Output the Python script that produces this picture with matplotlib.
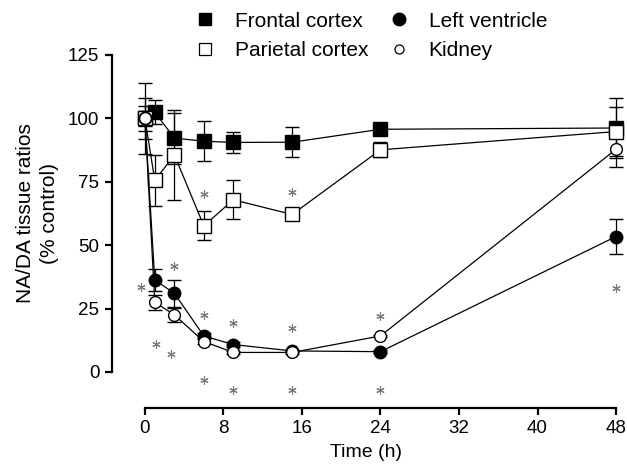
import matplotlib
matplotlib.use("Agg")
import matplotlib.pyplot as plt
from matplotlib.lines import Line2D

plt.rcParams['font.family'] = ['Liberation Sans', 'DejaVu Sans']
plt.rcParams['font.size'] = 14

# sampling times (h)
time_h = [0, 1, 3, 6, 9, 15, 24, 48]

# NA/DA ratios, % of control, mean and SEM
frontal = [100, 102.4, 92.2, 91.0, 90.5, 90.6, 95.7, 96.2]
frontal_err = [8, 4.8, 10, 8, 4.3, 6, 2, 12]
parietal = [100, 75.5, 85.6, 57.6, 67.9, 62.1, 87.6, 94.8]
parietal_err = [14, 10, 17.8, 5.7, 7.7, 1.5, 3, 9.5]
ventricle = [100, 36.3, 31.0, 14.2, 10.8, 8.3, 8.0, 53.4]
ventricle_err = [5, 4.3, 5.3, 1, 1, 0.5, 0.5, 7]
kidney = [100, 27.5, 22.5, 12.0, 7.7, 7.7, 14.2, 87.8]
kidney_err = [3, 3, 2.7, 1, 0.5, 0.5, 0.5, 6.8]

# significance stars (time, y)
stars_t = [6, 15, -0.4, 3, 6, 9, 15, 24, 48, 1.1, 2.7, 6, 9, 15, 24]
stars_y = [70, 71.1, 33.6, 41.8, 22.5, 19.2, 17.2, 22, 33, 11, 7, -3.2, -7.1, -7.1, -7.1]

fig = plt.figure(figsize=(6.27, 4.71), dpi=100)
ax = fig.add_axes([0.1786, 0.1338, 0.8117, 0.7495])

series = [
    (frontal, frontal_err, 's', 'black', 9.5),
    (parietal, parietal_err, 's', 'white', 9.5),
    (ventricle, ventricle_err, 'o', 'black', 9),
    (kidney, kidney_err, 'o', 'white', 8.5),
]
for vals, errs, mk, face, ms in series:
    ax.errorbar(time_h, vals, yerr=errs, fmt='-', color='black', lw=0.9,
                marker=mk, ms=ms, mfc=face, mec='black', mew=1.0,
                ecolor='black', elinewidth=0.9, capsize=4.7, capthick=0.9,
                clip_on=False, zorder=3)

ax.plot(stars_t, stars_y, ls='none', marker=(6, 2, 0), ms=6, mew=0.8,
        color='#7a7a7a', clip_on=False, zorder=4)

ax.set_xlim(-3.36, 48.5)
ax.set_ylim(-14.2, 125)
ax.set_xticks([0, 8, 16, 24, 32, 40, 48])
ax.set_yticks([0, 25, 50, 75, 100, 125])
ax.spines['top'].set_visible(False)
ax.spines['right'].set_visible(False)
ax.spines['left'].set_bounds(0, 125)
ax.spines['bottom'].set_bounds(0, 48)
ax.spines['left'].set_linewidth(1.6)
ax.spines['bottom'].set_linewidth(1.6)
ax.tick_params(direction='out', length=5, width=1.6, labelsize=13.5, pad=4)
ax.set_xlabel('Time (h)', fontsize=14, labelpad=5)
ax.set_ylabel('NA/DA tissue ratios\n(% control)', fontsize=15,
              linespacing=1.3)
ax.yaxis.set_label_coords(-0.105, 0.551)

handles = [
    Line2D([], [], ls='none', marker='s', ms=9, mfc='black', mec='black'),
    Line2D([], [], ls='none', marker='s', ms=9, mfc='white', mec='black', mew=0.9),
    Line2D([], [], ls='none', marker='o', ms=9, mfc='black', mec='black'),
    Line2D([], [], ls='none', marker='o', ms=6.5, mfc='white', mec='black', mew=0.9),
]
labels = ['Frontal cortex', 'Parietal cortex', 'Left ventricle', 'Kidney']
fig.legend(handles, labels, ncol=2, frameon=False, loc='upper left',
           bbox_to_anchor=(0.3104, 0.975), fontsize=15, handlelength=1.0,
           handletextpad=0.94, columnspacing=0.95, labelspacing=0.5,
           borderpad=0, borderaxespad=0)

fig.savefig('out.png', dpi=100)
